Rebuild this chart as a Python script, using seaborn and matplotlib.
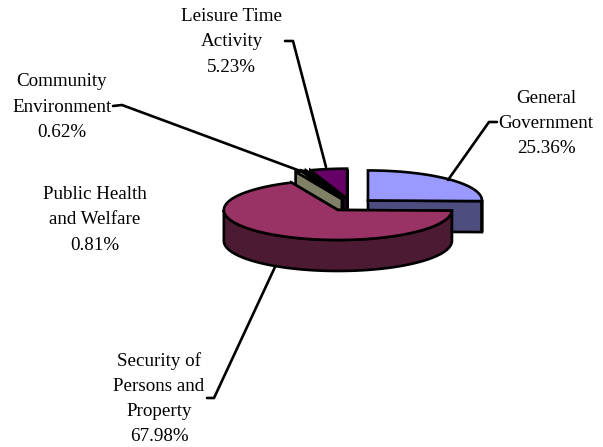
import numpy as np
import matplotlib
matplotlib.use("Agg")
import matplotlib.pyplot as plt
from matplotlib.patches import Polygon
import seaborn as sns

categories = ["General\nGovernment", "Security of\nPersons and\nProperty", "Public Health\nand Welfare",
              "Community\nEnvironment", "Leisure Time\nActivity"]
shares = [25.36, 67.98, 0.81, 0.62, 5.23]
top_colors = ["#9999FF", "#993366", "#FFFFCC", "#CCFFFF", "#660066"]
side_colors = ["#4D4D80", "#4D1A33", "#808066", "#668080", "#330033"]

# where each label sits (centre of text block, in pixels)
label_pos = [(546, 123.5), (159, 398.5), (95, 220), (62, 107), (231.5, 42)]
leaders = [
    [(497, 122), (489, 122), (448, 180)],
    [(207, 398), (214, 398), (275, 267)],
    None,
    [(113, 106), (122, 105), (303, 172)],
    [(285, 41), (293, 41), (326, 167)],
]

sns.set_theme(style="white")
plt.rcParams['font.family'] = ['Liberation Serif', 'DejaVu Serif']

fig = plt.figure(figsize=(6.03, 4.47), dpi=100)
ax = fig.add_axes([0, 0, 1, 1])
ax.set_xlim(0, 603)
ax.set_ylim(447, 0)
ax.axis('off')

# 3D pie geometry
cx, cy = 351, 204.8
rx, ry = 114, 30
depth = 31
explode = 0.208


def rim(angles, ox, oy):
    return np.column_stack([ox + rx * np.sin(angles), oy - ry * np.cos(angles)])


def face(points, color):
    ax.add_patch(Polygon(points, closed=True, facecolor=color, edgecolor='black',
                         linewidth=1.9, joinstyle='miter'))


edges = np.radians(np.concatenate([[0], np.cumsum(shares)]) * 3.6)
for i in [0, 4, 3, 2, 1]:
    a0, a1 = edges[i], edges[i + 1]
    mid = (a0 + a1) / 2
    ox = cx + explode * rx * np.sin(mid)
    oy = cy - explode * ry * np.cos(mid)
    down = np.array([0, depth])
    apex = np.array([ox, oy])

    # cut walls, the one further back first
    ends = sorted([a0, a1], key=lambda a: -np.cos(a))
    for a in ends:
        p = rim(np.array([a]), ox, oy)[0]
        face([apex, p, p + down, apex + down], side_colors[i])

    # outer wall, only the front half of the rim shows
    lo, hi = max(a0, np.pi / 2), min(a1, 3 * np.pi / 2)
    if hi > lo:
        arc = rim(np.linspace(lo, hi, 80), ox, oy)
        face(np.vstack([arc, arc[::-1] + down]), side_colors[i])

    # top
    arc = rim(np.linspace(a0, a1, 120), ox, oy)
    face(np.vstack([apex, arc]), top_colors[i])

for name, share, pos, line in zip(categories, shares, label_pos, leaders):
    ax.text(pos[0], pos[1], "{}\n{:.2f}%".format(name, share), ha='center', va='center',
            fontsize=13.7, color='black', linespacing=1.62)
    if line is not None:
        xs, ys = zip(*line)
        ax.plot(xs, ys, color='black', lw=1.9)

fig.savefig("out.png", dpi=100)
